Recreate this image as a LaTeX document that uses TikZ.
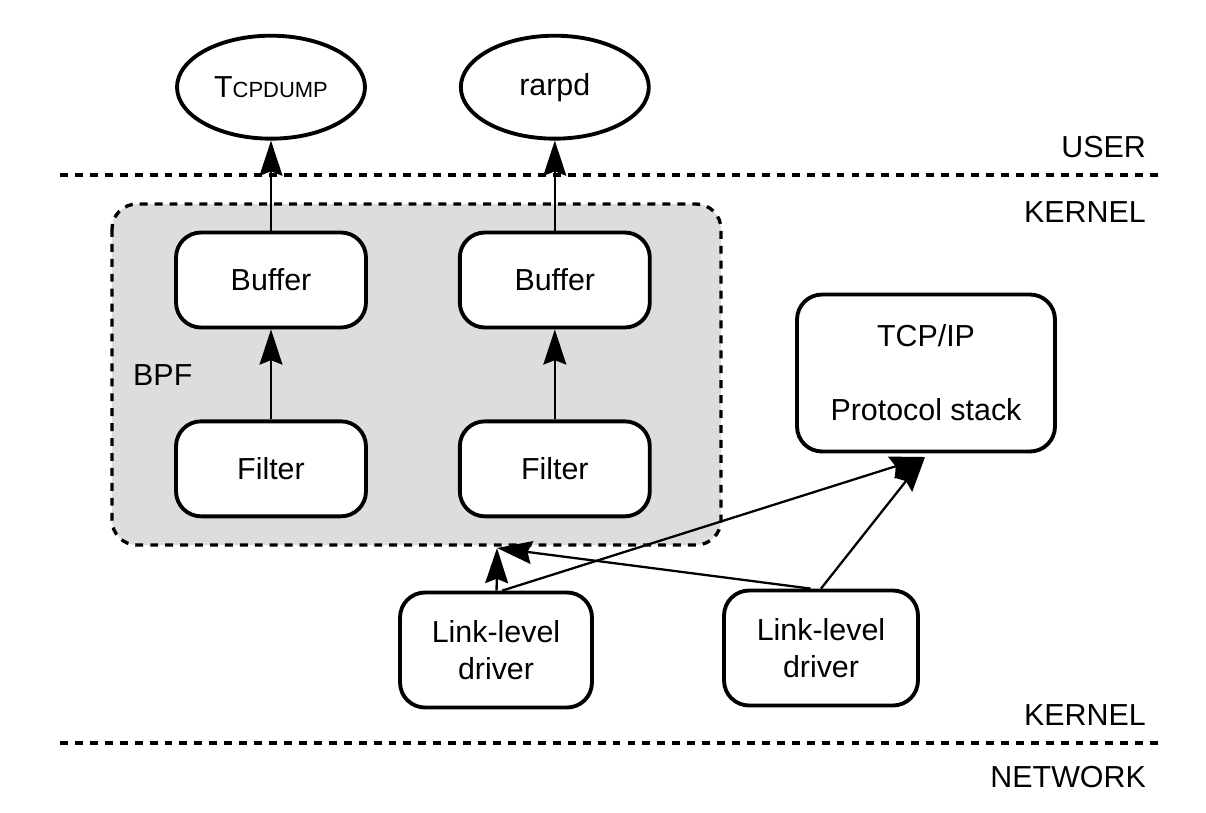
\documentclass[tikz,border=0pt]{standalone}
\usepackage{fontspec}
\setmainfont{Liberation Sans}
\usetikzlibrary{positioning,shapes.geometric,arrows.meta}
\definecolor{bpfgray}{RGB}{220,221,223}
\tikzset{box node/.style={draw,rounded corners=.5cm,line width=2.2pt,fill=white,minimum width=3.8cm,minimum height=1.9cm,align=center,inner sep=0pt},
	prog node/.style={ellipse,draw,line width=2.2pt,minimum width=3.76cm,minimum height=2.06cm,inner sep=0pt},
	layer label/.style={anchor=base east},
	layer line/.style={line width=1.9pt,dash pattern=on 4.5pt off 4pt},
	flow/.style={draw,-{Stealth[length=20pt,width=13pt,inset=2.5pt]},line width=1.3pt},}

\begin{document}
\begin{tikzpicture}[x=0.02cm,y=-0.02cm,font=\fontsize{17.3pt}{21pt}\selectfont]
	\useasboundingbox (0,0) rectangle (1206,812);
	% layers
	\draw[layer line] (60,175) -- (1163,175);
	\draw[layer line] (60,743) -- (1163,743);
	\node[layer label] (user) at (1152,157) {USER};
	\node[layer label] (kernel1) at (1152,222) {KERNEL};
	\node[layer label] (kernel2) at (1152,725) {KERNEL};
	\node[layer label] (network) at (1152,787) {NETWORK};

	% bpf
	\draw[layer line,fill=bpfgray,rounded corners=.5cm] (112,204) rectangle (721,545);
	\node[anchor=base west] (bpf) at (127,385) {BPF};

	\node[box node] (b1) at (271,280) {Buffer};
	\node[box node] (b2) [right = 1.8cm of b1] {Buffer};
	\node[box node] (f1) [below = 1.8cm of b1] {Filter};
	\node[box node] (f2) [below = 1.8cm of b2] {Filter};
	\node[prog node] (p1) [above = 1.8cm of b1] {T{\fontsize{12.5pt}{14pt}\selectfont CPDUMP}};
	\node[prog node] (p2) [above = 1.8cm of b2] {rarpd};

	\node[box node,minimum width=5.16cm,minimum height=3.14cm] (tcp) at (926,373) {TCP/IP\\[21pt]Protocol stack};
	\node[box node,minimum width=3.84cm,minimum height=2.3cm] (d1) at (496,650) {Link-level\\driver};
	\node[box node,minimum width=3.88cm,minimum height=2.3cm] (d2) at (821,648) {Link-level\\driver};

	\coordinate (bpf in) at (497,548);
	\coordinate (tcp in) at (925,457);

	\path[every edge/.style={flow}]
	(b1) edge node {} (p1)
	(b2) edge node {} (p2)
	(f1) edge node {} (b1)
	(f2) edge node {} (b2)
	(d1) edge node {} (bpf in)
	(d1.84) edge node {} (tcp in)
	(d2.100) edge node {} (bpf in)
	(d2.north) edge node {} (tcp in)
	;
\end{tikzpicture}
\end{document}
